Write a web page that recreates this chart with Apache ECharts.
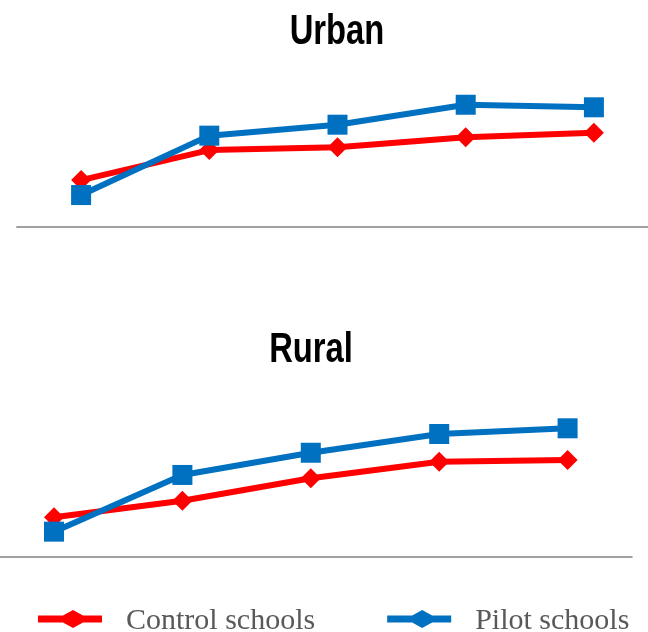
<!DOCTYPE html>
<html>
<head>
<meta charset="utf-8">
<title>Urban and Rural schools</title>
<script src="https://cdn.jsdelivr.net/npm/echarts@6/dist/echarts.min.js"></script>
<style>
  html, body { margin: 0; padding: 0; background: #ffffff; }
  #chart { width: 648px; height: 632px; }
</style>
</head>
<body>
<div id="chart"></div>
<script>
// Survey rounds along the horizontal axis (not labelled on the chart)
var rounds = ['Round 1', 'Round 2', 'Round 3', 'Round 4', 'Round 5'];

// Urban panel
var urbanControl = [31.3, 51.3, 53.1, 59.8, 62.9];
var urbanPilot   = [21.3, 60.9, 68.2, 81.5, 79.8];

// Rural panel
var ruralControl = [26.3, 37.3, 52.3, 63.3, 64.5];
var ruralPilot   = [16.7, 54.5, 69.3, 81.8, 85.6];

var panelTitles = ['Urban', 'Rural'];
var seriesNames = ['Control schools', 'Pilot schools'];

var RED = '#ff0000';
var BLUE = '#0070c0';
// Line-with-diamond key; the trailing empty move keeps the box 22px tall so the
// mark sits slightly above the text's centre line
var legendIcon = 'path://M0,5.5 L25,5.5 L35,0 L45,5.5 L64,5.5 L64,12.5 L45,12.5 L35,18 L25,12.5 L0,12.5 Z M64,22 L64,22';
// Narrow bold heading: Liberation Sans Bold squeezed horizontally
var titleFont = "bold 42px 'Liberation Sans', Arial, sans-serif";

function lineSeries(name, data, idx, color, symbol) {
  return {
    name: name,
    type: 'line',
    xAxisIndex: idx,
    yAxisIndex: idx,
    data: data,
    symbol: symbol,
    symbolSize: 20,
    showSymbol: true,
    animation: false,
    lineStyle: { color: color, width: 6 },
    itemStyle: { color: color },
    emphasis: { disabled: true }
  };
}

function xAxis(idx) {
  return {
    type: 'category',
    gridIndex: idx,
    data: rounds,
    boundaryGap: true,
    axisLine: { show: true, lineStyle: { color: '#a0a0a0', width: 2 } },
    axisTick: { show: false },
    axisLabel: { show: false },
    splitLine: { show: false }
  };
}

function yAxis(idx) {
  return {
    type: 'value',
    gridIndex: idx,
    min: 0,
    max: 100,
    show: false
  };
}

function heading(text, cx, cy) {
  return {
    type: 'text',
    x: cx,
    y: cy,
    scaleX: 0.78,
    silent: true,
    style: {
      text: text,
      x: 0,
      y: 0,
      font: titleFont,
      fill: '#000000',
      textAlign: 'center',
      textVerticalAlign: 'middle'
    }
  };
}

var chart = echarts.init(document.getElementById('chart'), null, { renderer: 'canvas' });

chart.setOption({
  backgroundColor: '#ffffff',
  animation: false,
  graphic: [
    heading(panelTitles[0], 337, 32),
    heading(panelTitles[1], 311, 350)
  ],
  legend: {
    left: 38,
    top: 606,
    padding: 0,
    itemWidth: 64,
    itemHeight: 22,
    itemGap: 72,
    selectedMode: false,
    data: [
      { name: seriesNames[0], icon: legendIcon, itemStyle: { color: RED } },
      { name: seriesNames[1], icon: legendIcon, itemStyle: { color: BLUE } }
    ],
    textStyle: {
      fontFamily: "'Liberation Serif', 'DejaVu Serif', serif",
      fontSize: 30,
      lineHeight: 30,
      color: '#595959',
      padding: [0, 0, 0, 19]
    }
  },
  grid: [
    { left: 17, width: 641, top: 77, height: 150, outerBoundsMode: 'none' },
    { left: -10.2, width: 642, top: 406.7, height: 150, outerBoundsMode: 'none' }
  ],
  xAxis: [xAxis(0), xAxis(1)],
  yAxis: [yAxis(0), yAxis(1)],
  series: [
    lineSeries(seriesNames[0], urbanControl, 0, RED, 'diamond'),
    lineSeries(seriesNames[1], urbanPilot, 0, BLUE, 'rect'),
    lineSeries(seriesNames[0], ruralControl, 1, RED, 'diamond'),
    lineSeries(seriesNames[1], ruralPilot, 1, BLUE, 'rect')
  ]
});
</script>
</body>
</html>
